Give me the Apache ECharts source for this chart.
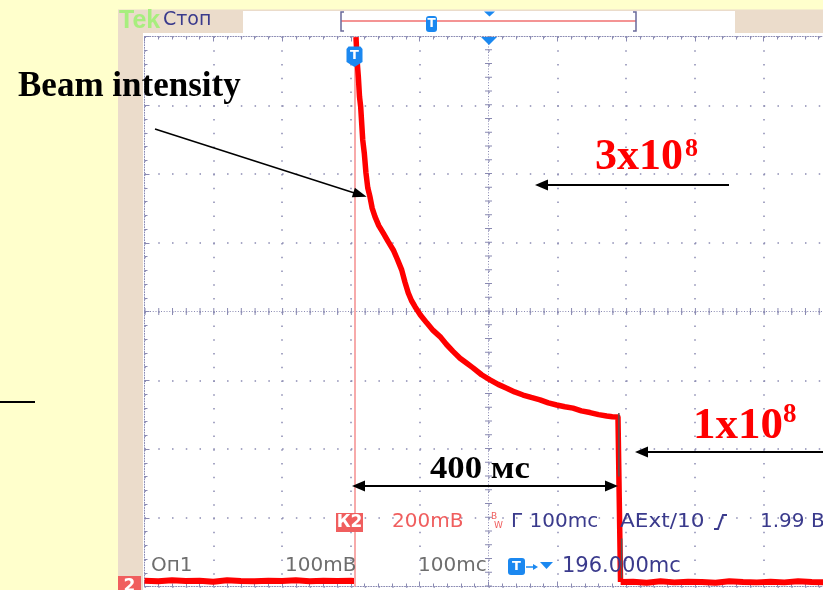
<!DOCTYPE html>
<html>
<head>
<meta charset="utf-8">
<script src="https://cdn.jsdelivr.net/npm/echarts@6/dist/echarts.min.js"></script>
<style>
html,body{margin:0;padding:0;background:#FFFFCC;}
#chart{width:823px;height:590px;}
</style>
</head>
<body>
<div id="chart"></div>
<script>
// ---- data (time in ms, signal in mV, 200 mV/div, 100 ms/div) ----
const preTriggerTime = [0, 20, 40, 60, 80, 100, 120, 140, 160, 180, 200, 220, 240, 260, 280, 300, 305];
const preTriggerMv   = [17, 15, 18, 16, 17, 14, 18, 16, 15, 17, 16, 18, 15, 17, 16, 17, 16];

const decayTime = [307.4, 309.0, 310.8, 312.5, 314.2, 317.2, 319.5, 321.9, 324.5, 327.7, 331.0, 335.0, 340.5, 347.1,
                   354.0, 361.6, 367.5, 373.8, 378.5, 383.4, 388.0, 393.2, 401.0, 410.2, 419.5, 429.5, 439.0, 448.4,
                   458.6, 468.0, 477.5, 490.0, 502.2, 514.0, 526.5, 538.0, 550.2, 562.0, 574.9, 587.0, 599.1,
                   611.0, 622.8, 635.0, 647.5, 660.0, 671.8, 680.0, 688.2, 691.1, 691.9];
const decayMv   = [1598, 1530, 1483, 1425, 1396, 1299, 1260, 1203, 1160, 1134, 1100, 1076, 1050, 1028,
                   1004, 979, 952, 921, 886, 854, 832, 814, 790, 767, 745, 727, 704, 684,
                   664, 650, 636, 616, 601, 588, 577, 566, 557, 550, 543, 534, 528,
                   523, 519, 511, 506, 500, 496, 494, 493, 490, 13];

const postTime = [692, 710, 730, 750, 770, 790, 810, 830, 850, 870, 890, 910, 930, 950, 970, 990, 1000];
const postMv   = [13, 14, 11, 15, 12, 14, 13, 11, 15, 13, 12, 14, 12, 15, 13, 12, 14];

// dark overlay segments on the falling edge
const overlayTime = [689.5, 689.5, null, 693.5, 693.5];
const overlayMv   = [505, 320, null, 140, 25];

const xMinMs = 0, xMaxMs = 1000, xStepMs = 100;      // 10 divisions
const yMinMv = 0, yMaxMv = 1600, yStepMv = 200;      // 8 divisions
const triggerMs = 305, centerMs = 500, centerMv = 800;

// texts
const titleText = 'Beam intensity';
const highText = '3x10', lowText = '1x10', expText = '8';
const spanText = '400 мс';

const pairs = (xs, ys) => xs.map((x, i) => (x === null ? ['-', '-'] : [x, ys[i]]));

const gridColor = '#8A8AB2';
const navy = '#3A3A8C', salmon = '#F05E5E', blue = '#1B88F0', grey = '#6E6E6E';

function head(tx, ty, fx, fy, len, half) {
  const dx = tx - fx, dy = ty - fy, L = Math.hypot(dx, dy);
  const ux = dx / L, uy = dy / L;
  const bx = tx - ux * len, by = ty - uy * len;
  return {type: 'polygon', z: 60, shape: {points: [[tx, ty], [bx - uy * half, by + ux * half], [bx + uy * half, by - ux * half]]}, style: {fill: '#000'}};
}
function line(x1, y1, x2, y2, w, c) {
  return {type: 'line', z: 60, shape: {x1, y1, x2, y2}, style: {stroke: c || '#000', lineWidth: w}};
}
function txt(x, y, t, opts) {
  return Object.assign({type: 'text', z: 60, x, y, style: Object.assign({text: t, verticalAlign: 'middle', align: 'left'}, opts.style)}, opts.extra || {});
}
const serifB = (s, c) => ({fontFamily: 'Liberation Serif', fontWeight: 'bold', fontSize: s, fill: c});
const scope = (s, c, w) => ({fontFamily: 'DejaVu Sans', fontWeight: w || 'normal', fontSize: s, fill: c});

const graphics = [
  // panels
  {type: 'rect', z: -10, shape: {x: 118, y: 9.5, width: 705, height: 581}, style: {fill: '#EBDCCB'}},
  {type: 'rect', z: -9, shape: {x: 143, y: 33, width: 680, height: 557}, style: {fill: '#FFFFFF'}},
  // header
  txt(119, 21, 'Tek', {style: {fontFamily: 'Liberation Sans', fontWeight: 'bold', fontSize: 25, fill: '#A8EE7E'}}),
  txt(163, 20, 'Стоп', {style: scope(19, navy)}),
  {type: 'rect', z: 5, shape: {x: 243, y: 11, width: 492, height: 22}, style: {fill: '#FFFFFF'}},
  line(341, 21, 636, 21, 1.5, '#F07070'),
  {type: 'polyline', z: 60, shape: {points: [[344, 12], [341, 12], [341, 31], [344, 31]]}, style: {stroke: '#6A6A9A', lineWidth: 1.5, fill: null}},
  {type: 'polyline', z: 60, shape: {points: [[633, 12], [636, 12], [636, 31], [633, 31]]}, style: {stroke: '#6A6A9A', lineWidth: 1.5, fill: null}},
  {type: 'rect', z: 61, shape: {x: 426, y: 16, width: 11, height: 16, r: 3}, style: {fill: blue}},
  txt(431.5, 24, 'T', {style: {fontFamily: 'DejaVu Sans', fontWeight: 'bold', fontSize: 12, fill: '#fff', align: 'center'}, extra: {z: 62}}),
  {type: 'polygon', z: 61, shape: {points: [[484, 11.5], [495, 11.5], [489.5, 16.5]]}, style: {fill: blue}},
  // graticule markers
  {type: 'polygon', z: 61, shape: {points: [[481, 37], [497, 37], [489, 45]]}, style: {fill: blue}},
  {type: 'polygon', z: 61, shape: {points: [[346.5, 49], [348.5, 46.5], [360.5, 46.5], [362.5, 49], [362.5, 62], [354.5, 67], [346.5, 62]]}, style: {fill: blue}},
  txt(354.5, 56, 'T', {style: {fontFamily: 'DejaVu Sans', fontWeight: 'bold', fontSize: 13, fill: '#fff', align: 'center'}, extra: {z: 62}}),
  // annotations
  txt(18, 87, titleText, {style: serifB(35, '#000')}),
  line(155, 129, 356, 193.5, 1.5), head(366.7, 196.7, 155, 129, 14, 5),
  txt(595, 158, highText, {style: serifB(44, '#FF0000')}),
  txt(685, 149, expText, {style: serifB(26, '#FF0000')}),
  line(546, 185, 729, 185, 2), head(535, 185, 729, 185, 13, 5.5),
  txt(693, 426, lowText, {style: serifB(45, '#FF0000')}),
  txt(783, 415, expText, {style: serifB(27, '#FF0000')}),
  line(646, 452, 823, 452, 2), head(635, 452, 823, 452, 13, 5.5),
  txt(430, 470, spanText, {style: serifB(31, '#000'), extra: {scaleX: 1.12, originX: 0}}),
  line(362, 486, 608, 486, 2), head(352, 486, 618, 486, 13, 5.5), head(618, 486, 352, 486, 13, 5.5),
  line(0, 402, 35, 402, 2),
  // readouts row 1
  {type: 'rect', z: 61, shape: {x: 336, y: 513, width: 27, height: 19}, style: {fill: salmon}},
  txt(349.5, 522.5, 'К2', {style: {fontFamily: 'DejaVu Sans', fontWeight: 'bold', fontSize: 17, fill: '#fff', align: 'center'}, extra: {z: 62}}),
  txt(392, 522, '200mB', {style: scope(20, salmon)}),
  txt(491, 517, 'B', {style: scope(9, salmon)}),
  txt(494, 526, 'W', {style: scope(9, salmon)}),
  txt(511, 522, 'Г 100mc', {style: scope(20, navy)}),
  txt(620, 522, 'AExt/10', {style: scope(20, navy), extra: {scaleX: 1.08, originX: 0}}),
  {type: 'polyline', z: 60, shape: {points: [[714, 529], [718, 529], [723, 515], [727, 515]]}, style: {stroke: navy, lineWidth: 2, fill: null}},
  txt(760, 522, '1.99 B', {style: scope(20, navy)}),
  // readouts row 2
  txt(151, 566, 'Оп1', {style: scope(20, grey)}),
  txt(285, 566, '100mB', {style: scope(20, grey)}),
  txt(418, 566, '100mc', {style: scope(20, grey)}),
  {type: 'rect', z: 61, shape: {x: 508, y: 558, width: 17, height: 17, r: 3}, style: {fill: blue}},
  txt(516.5, 567, 'T', {style: {fontFamily: 'DejaVu Sans', fontWeight: 'bold', fontSize: 13, fill: '#fff', align: 'center'}, extra: {z: 62}}),
  line(526, 567, 535, 567, 1.5, blue),
  {type: 'polygon', z: 61, shape: {points: [[533, 564], [538, 567], [533, 570]]}, style: {fill: blue}},
  {type: 'polygon', z: 61, shape: {points: [[540, 562], [553, 562], [546.5, 569]]}, style: {fill: blue}},
  txt(562, 567, '196.000mc', {style: scope(21, navy)}),
  {type: 'rect', z: 61, shape: {x: 118, y: 576, width: 23, height: 14}, style: {fill: salmon}},
  txt(129.5, 587, '2', {style: {fontFamily: 'DejaVu Sans', fontWeight: 'bold', fontSize: 17, fill: '#fff', align: 'center'}, extra: {z: 62}})
];

const dotted = {color: gridColor, width: 1.5, type: [1.5, 12.26]};
const axisCommon = {
  axisLabel: {show: false},
  axisLine: {show: true, lineStyle: {color: gridColor, width: 1, type: [1, 1.6]}},
  axisTick: {show: true, inside: true, length: 5, lineStyle: {color: gridColor}},
  minorTick: {show: true, splitNumber: 5, length: 3, lineStyle: {color: gridColor}}
};

const chart = echarts.init(document.getElementById('chart'), null, {renderer: 'canvas'});
chart.setOption({
  animation: false,
  backgroundColor: 'transparent',
  grid: {left: 144.5, top: 36.5, width: 688, height: 550, outerBoundsMode: 'none', containLabel: false},
  xAxis: [
    Object.assign({type: 'value', min: xMinMs, max: xMaxMs, interval: xStepMs, position: 'bottom',
      splitLine: {show: true, lineStyle: dotted}}, axisCommon),
    Object.assign({type: 'value', min: xMinMs, max: xMaxMs, interval: xStepMs, position: 'top',
      splitLine: {show: false}}, axisCommon)
  ],
  yAxis: [
    Object.assign({type: 'value', min: yMinMv, max: yMaxMv, interval: yStepMv, position: 'left',
      splitLine: {show: true, lineStyle: dotted}}, axisCommon)
  ],
  graphic: {elements: graphics},
  series: [
    {
      name: 'pre', type: 'line', showSymbol: false, z: 4,
      data: pairs(preTriggerTime, preTriggerMv),
      lineStyle: {color: '#FF0000', width: 6},
      markLine: {
        silent: true, symbol: ['none', 'none'], label: {show: false},
        data: [
          {xAxis: centerMs, lineStyle: {color: gridColor, width: 1, type: [1, 1.75]}},
          {xAxis: centerMs, lineStyle: {color: gridColor, width: 7, type: [1, 12.75]}},
          {yAxis: centerMv, lineStyle: {color: gridColor, width: 1, type: [1, 1.75]}},
          {yAxis: centerMv, lineStyle: {color: gridColor, width: 7, type: [1, 12.76]}},
          {xAxis: triggerMs, lineStyle: {color: '#F7AAAA', width: 2, type: 'solid'}}
        ]
      }
    },
    {
      name: 'decay', type: 'line', showSymbol: false, z: 5,
      data: pairs(decayTime, decayMv),
      lineStyle: {color: '#FF0000', width: 5.5, join: 'round'}
    },
    {
      name: 'post', type: 'line', showSymbol: false, z: 5,
      data: pairs(postTime, postMv),
      lineStyle: {color: '#FF0000', width: 6}
    },
    {
      name: 'overlay', type: 'line', showSymbol: false, z: 6, connectNulls: false,
      data: pairs(overlayTime, overlayMv),
      lineStyle: {color: '#555555', width: 1.5}
    }
  ]
});
</script>
</body>
</html>
